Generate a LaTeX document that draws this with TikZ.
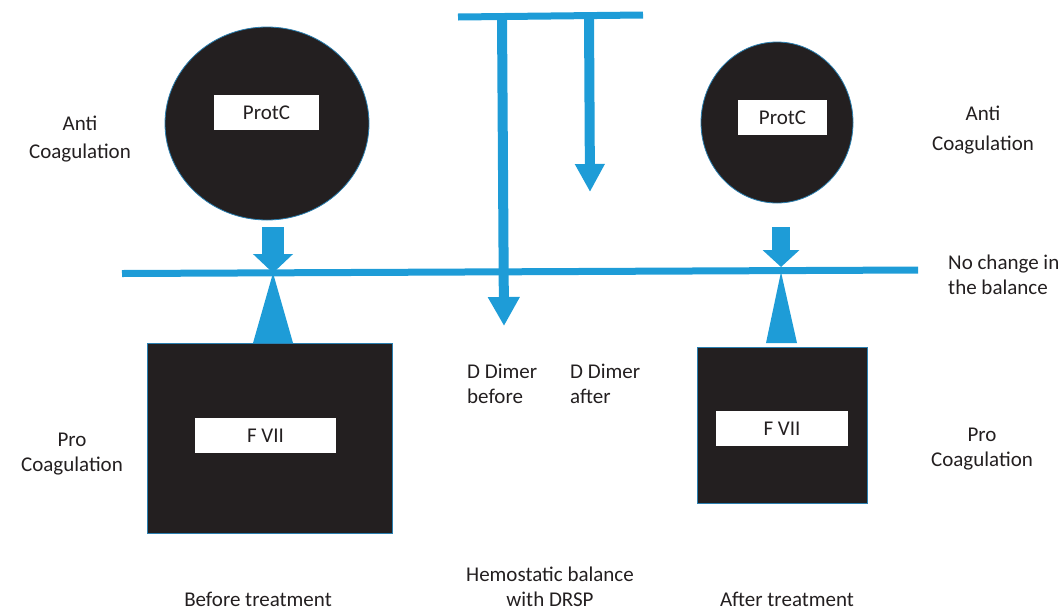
\documentclass[tikz,border=0pt]{standalone}
\usepackage{fontspec}
\setmainfont{Carlito}
\usetikzlibrary{arrows.meta,shapes.geometric}
\definecolor{bblue}{HTML}{1E9CD7}
\definecolor{dark}{HTML}{231F20}
\definecolor{edgeblue}{HTML}{2A7FB0}
\begin{document}
\begin{tikzpicture}[x=1pt,y=-1pt,
  every node/.style={font=\fontsize{21}{25}\selectfont, text=dark},
  lbl/.style={align=center, inner sep=0pt},
  lbll/.style={align=left, inner sep=0pt},
  wbox/.style={fill=white, minimum width=#1, minimum height=35pt, inner sep=0pt},
  bbox/.style={fill=dark, draw=edgeblue, line width=0.6pt},
  circ/.style={ellipse, fill=dark, draw=edgeblue, line width=0.8pt, inner sep=0pt},
  bar/.style={draw=bblue, line width=7pt},
  barrow/.style={draw=bblue, line width=#1},
  fulcrum/.style={fill=bblue, draw=none}
]
\useasboundingbox (0,0) rectangle (1064,611);

% circles
\node[circ, minimum width=204pt, minimum height=193pt] (c1) at (267,123.5) {};
\node[circ, minimum width=152pt, minimum height=161pt] (c2) at (777,122.5) {};
\node[wbox=105pt] (p1) at (266.5,112.5) {ProtC};
\node[wbox=89pt] (p2) at (782.5,117.5) {ProtC};

% boxes
\node[bbox, minimum width=245pt, minimum height=190pt, inner sep=0pt] (b1) at (269.5,438) {};
\node[bbox, minimum width=170pt, minimum height=156pt, inner sep=0pt] (b2) at (782,425) {};
\node[wbox=141pt] (f1) at (265.5,435.5) {F VII};
\node[wbox=132pt] (f2) at (782,428.5) {F VII};

% fulcrum triangles
\coordinate (ap1) at (273,273);
\coordinate (ap2) at (781,272);
\fill[fulcrum] (ap1) -- (293,343) -- (253,343) -- cycle;
\fill[fulcrum] (ap2) -- (797,343) -- (766,343) -- cycle;

% balance beam
\coordinate (bl) at (122,273.5);
\coordinate (br) at (918,270);
\draw[bar] (bl) -- (br);

% down arrows from circles to beam
\coordinate (a1s) at (273,227);
\coordinate (a2s) at (781,227);
\draw[barrow=22pt, -{Triangle[length=19pt,width=39pt]}] (a1s) -- (ap1);
\draw[barrow=18pt, -{Triangle[length=17pt,width=36pt]}] (a2s) -- (781,267);

% top bar and D-dimer arrows
\coordinate (tl) at (458,17);
\coordinate (tr) at (643,15);
\draw[bar] (tl) -- (tr);
\coordinate (d1s) at (502,17);
\coordinate (d1e) at (504,326);
\coordinate (d2s) at (589,16);
\coordinate (d2e) at (590,192);
\draw[barrow=10pt, -{Triangle[length=29pt,width=30pt]}] (d1s) -- (d1e);
\draw[barrow=10pt, -{Triangle[length=28pt,width=28pt]}] (d2s) -- (d2e);

% labels
\node[lbl] (anti1) at (80,139) {Anti\\[3pt]Coagulation};
\node[lbl] (anti2) at (983,130) {Anti\\[5pt]Coagulation};
\node[lbll, anchor=west] (nochg) at (948,275) {No change in\\the balance};
\node[lbl] (pro1) at (72,454) {Pro\\Coagulation};
\node[lbl] (pro2) at (982,449) {Pro\\Coagulation};
\node[lbll, anchor=west] (dd1) at (467,384) {D Dimer\\before};
\node[lbll, anchor=west] (dd2) at (570,384) {D Dimer\\after};
\node[lbl] (hemo) at (550,587) {Hemostatic balance\\with DRSP};
\node[lbl] (bef) at (258,599) {Before treatment};
\node[lbl] (aft) at (787,599) {After treatment};
\end{tikzpicture}
\end{document}
